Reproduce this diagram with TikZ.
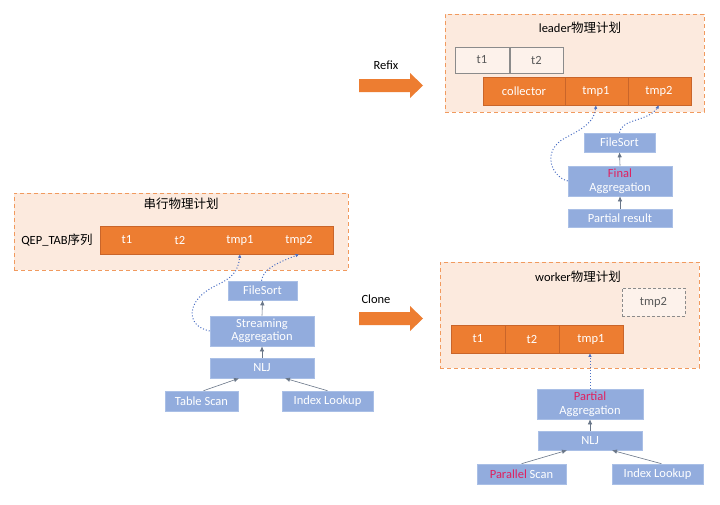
\documentclass[tikz,border=0pt]{standalone}
\usepackage{fontspec}
\setmainfont{Carlito}
\newfontfamily\cjk{Noto Sans CJK SC}
\usetikzlibrary{arrows.meta}
\definecolor{panelfill}{HTML}{FCEADE}
\definecolor{paneldraw}{HTML}{F19A5E}
\definecolor{barfill}{HTML}{ED7D31}
\definecolor{bardraw}{HTML}{C9652A}
\definecolor{bluefill}{HTML}{92ACDD}
\definecolor{bluedraw}{HTML}{A9BFE6}
\definecolor{dotblue}{HTML}{4A6FC4}
\definecolor{tipblue}{HTML}{44546A}
\definecolor{redtxt}{HTML}{E0205F}
\definecolor{greytxt}{HTML}{595959}
\tikzset{
  panel/.style={draw=paneldraw, fill=panelfill, dashed, dash pattern=on 4pt off 3pt, line width=0.9pt, inner sep=0pt},
  bar/.style={draw=bardraw, fill=barfill, line width=0.6pt, inner sep=0pt},
  barlbl/.style={text=white, inner sep=0pt},
  bbox/.style={draw=bluedraw, fill=bluefill, line width=0.6pt, text=white, inner sep=0pt, align=center},
  tbox/.style={draw=greytxt!70, fill=panelfill!60, line width=0.6pt, text=greytxt, inner sep=0pt},
  dbox/.style={draw=greytxt!70, fill=panelfill!60, dashed, dash pattern=on 3pt off 2pt, line width=0.6pt, text=greytxt, inner sep=0pt},
  flow/.style={draw=tipblue!80, line width=0.6pt, -{Latex[length=5pt,width=4.5pt]}},
  dotc/.style={draw=dotblue, dotted, line width=1pt, -{Latex[length=3.5pt,width=3.5pt]}},
  bigarrow/.style={fill=barfill, draw=none},
  divider/.style={draw=bardraw, line width=0.6pt}
}
\begin{document}
\begin{tikzpicture}[x=1pt,y=-1pt,font=\fontsize{12.5}{13.5}\selectfont]
\path[use as bounding box, fill=white] (0,0) rectangle (720,504);

% ---------- left: serial plan ----------
\node[panel, minimum width=334pt, minimum height=77pt] (lp) at (181,231.5) {};
\node (lpt) at (181,204) {\cjk 串行物理计划};
\node (qep) at (57,240) {QEP\_TAB{\cjk 序列}};
\node[bar, minimum width=233pt, minimum height=28pt] (lbar) at (216.5,240) {};
\node[barlbl] (lt1) at (127,240) {t1};
\node[barlbl] (lt2) at (180,240) {t2};
\node[barlbl] (ltmp1) at (240,240) {tmp1};
\node[barlbl] (ltmp2) at (299,240) {tmp2};

\node[bbox, minimum width=69pt, minimum height=19pt] (lfs) at (262.5,290.5) {FileSort};
\node[bbox, minimum width=104pt, minimum height=30pt] (lsa) at (262,331) {Streaming\\Aggregation};
\node[bbox, minimum width=104pt, minimum height=20pt] (lnlj) at (262,368) {NLJ};
\node[bbox, minimum width=73pt, minimum height=20pt] (lts) at (201.5,401) {Table Scan};
\node[bbox, minimum width=91pt, minimum height=20pt] (lil) at (327.5,401) {Index Lookup};

\draw[flow] (lsa.north) -- (lfs.south);
\draw[flow] (lnlj.north) -- (lsa.south);
\draw[flow] ([xshift=2pt]lts.north) -- ([xshift=-23pt]lnlj.south);
\draw[flow] (lil.north) -- ([xshift=23pt]lnlj.south);
\coordinate (lc1) at (ltmp1.south |- lbar.south);
\coordinate (lc2) at (ltmp2.south |- lbar.south);
\draw[dotc] (lsa.west) .. controls (185,326) and (186,300) .. (215,286)
  .. controls (232,278) and (238,272) .. (lc1);
\draw[dotc] ([xshift=-1pt]lfs.north) .. controls (263,268) and (280,262) .. (lc2);

% ---------- arrows ----------
\node (refix) at (386,65) {Refix};
\fill[bigarrow] (359,79) -- (410,79) -- (410,73) -- (423,85.5) -- (410,98) -- (410,92) -- (359,92) -- cycle;
\node (clone) at (376,299) {Clone};
\fill[bigarrow] (359,312) -- (410,312) -- (410,306) -- (423,318.5) -- (410,331) -- (410,325) -- (359,325) -- cycle;

% ---------- leader plan ----------
\node[panel, minimum width=259pt, minimum height=98pt] (rp) at (574.5,63) {};
\node (rpt) at (580,28) {leader{\cjk 物理计划}};
\node[tbox, minimum width=54pt, minimum height=26pt] (rt1) at (482,60) {t1};
\node[tbox, minimum width=53pt, minimum height=26pt] (rt2) at (536.5,60) {t2};
\node[bar, minimum width=208pt, minimum height=28pt] (rbar) at (587,91) {};
\draw[divider] (565,77) -- (565,105);
\draw[divider] (628,77) -- (628,105);
\node[barlbl] (rcol) at (524,91) {collector};
\node[barlbl] (rtmp1) at (596,91) {tmp1};
\node[barlbl] (rtmp2) at (659,91) {tmp2};

\node[bbox, minimum width=71pt, minimum height=19pt] (rfs) at (619.5,142.5) {FileSort};
\node[bbox, minimum width=104pt, minimum height=30pt] (rfa) at (620,181) {{\color{redtxt}Final}\\Aggregation};
\node[bbox, minimum width=104pt, minimum height=18pt] (rpr) at (620,218) {Partial result};
\draw[flow] (rfa.north) -- (rfs.south);
\draw[flow] (rpr.north) -- (rfa.south);
\coordinate (rc1) at (rtmp1.south |- rbar.south);
\coordinate (rc2) at (rtmp2.south |- rbar.south);
\draw[dotc] (rfa.west) .. controls (550,176) and (542,150) .. (565,138)
  .. controls (584,128) and (594,122) .. (rc1);
\draw[dotc] (rfs.north) .. controls (622,118) and (648,122) .. (rc2);

% ---------- worker plan ----------
\node[panel, minimum width=259pt, minimum height=106pt] (wp) at (569.5,315) {};
\node (wpt) at (578,277) {worker{\cjk 物理计划}};
\node[dbox, minimum width=63pt, minimum height=28pt] (wtmp2) at (653.5,302) {tmp2};
\node[bar, minimum width=172pt, minimum height=28pt] (wbar) at (537,339) {};
\draw[divider] (505,325) -- (505,353);
\draw[divider] (559,325) -- (559,353);
\node[barlbl] (wt1) at (478,339) {t1};
\node[barlbl] (wt2) at (532,339) {t2};
\node[barlbl] (wtmp1) at (591,339) {tmp1};

\node[bbox, minimum width=106pt, minimum height=30pt] (wpa) at (590,404) {{\color{redtxt}Partial}\\Aggregation};
\node[bbox, minimum width=104pt, minimum height=19pt] (wnlj) at (590,440.5) {NLJ};
\node[bbox, minimum width=89pt, minimum height=20pt] (wps) at (521.5,474) {{\color{redtxt}Parallel} Scan};
\node[bbox, minimum width=91pt, minimum height=20pt] (wil) at (657.5,474) {Index Lookup};
\draw[flow] (wnlj.north) -- (wpa.south);
\draw[flow] (wps.north) -- ([xshift=-23pt]wnlj.south);
\draw[flow] ([xshift=4pt]wil.north) -- ([xshift=22pt]wnlj.south);
\coordinate (wc1) at (wpa.north |- wbar.south);
\draw[dotc] (wpa.north) -- (wc1);
\end{tikzpicture}
\end{document}
